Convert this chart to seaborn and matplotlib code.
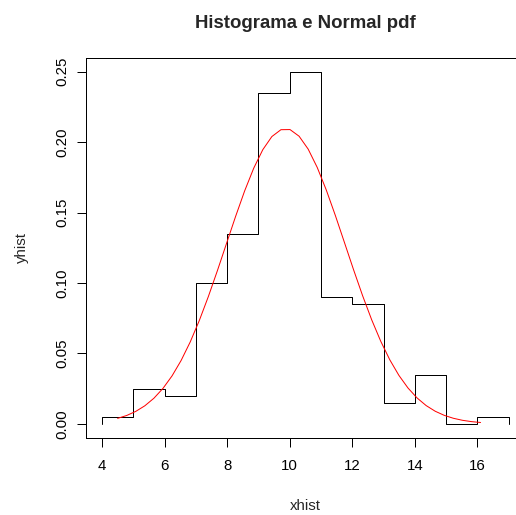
import matplotlib
matplotlib.use("Agg")
import matplotlib.pyplot as plt
import seaborn as sns
import pandas as pd

# Histogram densities as a stair outline (closed at both ends with zero)
xhist = [4, 4, 5, 6, 7, 8, 9, 10, 11, 12, 13, 14, 15, 16, 17]
yhist = [0.0, 0.005, 0.025, 0.02, 0.1, 0.135, 0.235, 0.25, 0.09, 0.085,
         0.015, 0.035, 0.0, 0.005, 0.0]

# Fitted normal density sampled over the data range
xcurve = [4.50, 4.79, 5.08, 5.37, 5.66, 5.95, 6.24, 6.53, 6.82, 7.11,
          7.40, 7.69, 7.98, 8.27, 8.56, 8.85, 9.14, 9.43, 9.72, 10.01,
          10.30, 10.59, 10.88, 11.17, 11.46, 11.75, 12.04, 12.33, 12.62, 12.91,
          13.20, 13.49, 13.78, 14.07, 14.36, 14.65, 14.94, 15.23, 15.52, 15.81,
          16.10]
ycurve = [0.00394, 0.00598, 0.00888, 0.01286, 0.01822, 0.02521, 0.03409, 0.04503,
          0.05813, 0.07332, 0.09037, 0.10881, 0.12802, 0.14718, 0.16534, 0.18146,
          0.19459, 0.20391, 0.20877, 0.20886, 0.20414, 0.19499, 0.18197, 0.16592,
          0.14783, 0.12869, 0.10946, 0.09097, 0.07388, 0.05862, 0.04544, 0.03443,
          0.02549, 0.01843, 0.01302, 0.00899, 0.00607, 0.00400, 0.00257, 0.00162,
          0.00100]

xticks = [4, 6, 8, 10, 12, 14, 16]
yticks = [0.00, 0.05, 0.10, 0.15, 0.20, 0.25]
ytick_labels = ["0.00", "0.05", "0.10", "0.15", "0.20", "0.25"]

sns.set_style("ticks")
plt.rcParams["font.family"] = ["Liberation Sans", "DejaVu Sans"]

W, H = 516, 515
fig = plt.figure(figsize=(W / 72, H / 72), dpi=72)
# The plotting region runs past the right edge of the canvas
ax = fig.add_axes([85.7 / W, (H - 438) / H, 439.3 / W, 380.5 / H])

hist_df = pd.DataFrame({"xhist": xhist, "yhist": yhist})
curve_df = pd.DataFrame({"x": xcurve, "y": ycurve})

sns.lineplot(data=hist_df, x="xhist", y="yhist", ax=ax, color="black",
             linewidth=1, drawstyle="steps-post", estimator=None, sort=False)
sns.lineplot(data=curve_df, x="x", y="y", ax=ax, color="red",
             linewidth=1, estimator=None, sort=False)

ax.set_xlim(3.48, 17.52)
ax.set_ylim(-0.01, 0.26)
ax.set_xticks(xticks)
ax.set_xticklabels([str(t) for t in xticks])
ax.set_yticks(yticks)
ax.set_yticklabels(ytick_labels, rotation=90, va="center")

for s in ax.spines.values():
    s.set_visible(True)
    s.set_color("black")
    s.set_linewidth(1)

ax.tick_params(axis="both", direction="out", length=9, width=1,
               color="black", labelcolor="black", labelsize=15)
ax.tick_params(axis="x", pad=12)
ax.tick_params(axis="y", pad=7)

ax.set_xlabel("xhist", fontsize=15, labelpad=26)
ax.set_ylabel("yhist", fontsize=15, labelpad=27)
ax.set_title("Histograma e Normal pdf", fontsize=18.6, fontweight="bold", pad=30)

fig.savefig("out.png", dpi=72)
